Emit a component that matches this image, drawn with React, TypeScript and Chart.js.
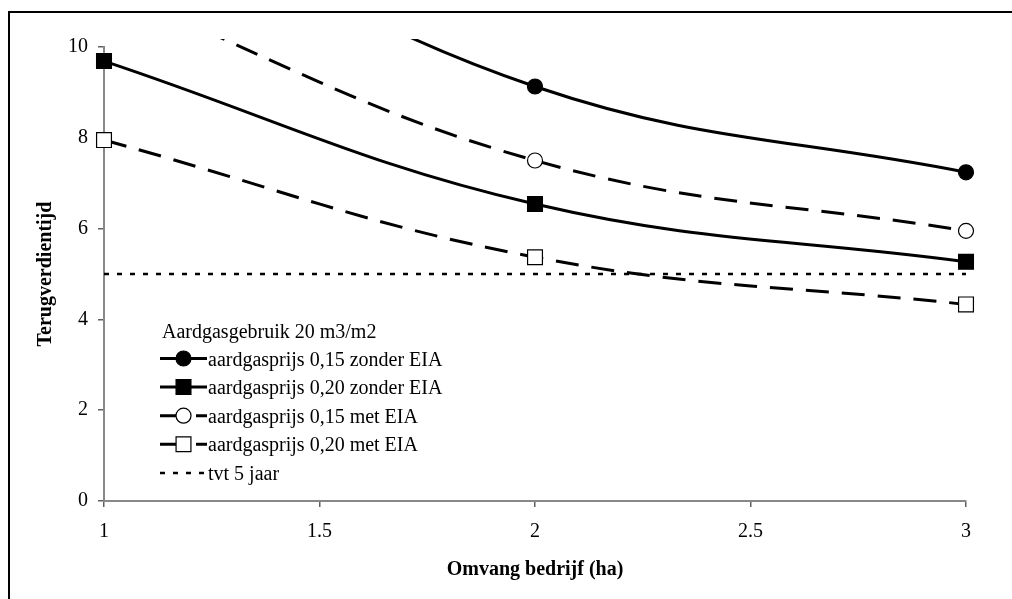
import React, { useEffect, useRef } from 'react';
import { Chart, registerables } from 'chart.js';

Chart.register(...registerables);

// ---- data ----
const sizes = [1, 2, 3];
const prijs015Zonder = [13.7, 9.13, 7.24];
const prijs020Zonder = [9.69, 6.54, 5.27];
const prijs015Met = [11.3, 7.5, 5.95];
const prijs020Met = [7.95, 5.37, 4.33];
const tvtSizes = [1, 3];
const tvtValues = [5, 5];
const xTicks = [1, 1.5, 2, 2.5, 3];
const yTicks = [0, 2, 4, 6, 8, 10];
const legendTitle = 'Aardgasgebruik 20 m3/m2';
const seriesLabels = [
  'aardgasprijs 0,15 zonder EIA',
  'aardgasprijs 0,20 zonder EIA',
  'aardgasprijs 0,15 met EIA',
  'aardgasprijs 0,20 met EIA',
  'tvt 5 jaar',
];
const xTitle = 'Omvang bedrijf (ha)';
const yTitle = 'Terugverdientijd';

const FONT = '"Liberation Serif", "Times New Roman", serif';
const DASH = [23, 13];
const DOT = [5, 8];
const CLIP = { left: 20, right: 20, top: 8, bottom: 20 };

const toPts = (xs: number[], ys: number[]) => xs.map((x, i) => ({ x, y: ys[i] }));

function drawMarker(ctx: CanvasRenderingContext2D, style: string, r: number, fill: string, x: number, y: number) {
  ctx.save();
  ctx.setLineDash([]);
  ctx.lineWidth = 1.2;
  ctx.strokeStyle = '#000';
  ctx.fillStyle = fill;
  ctx.beginPath();
  if (style === 'circle') {
    ctx.arc(x, y, r, 0, Math.PI * 2);
  } else {
    const s = Math.SQRT1_2 * r;
    ctx.rect(x - s, y - s, 2 * s, 2 * s);
  }
  ctx.fill();
  ctx.stroke();
  ctx.restore();
}

const legendPlugin = {
  id: 'customLegend',
  afterDraw(chart: any) {
    const ctx: CanvasRenderingContext2D = chart.ctx;
    ctx.save();
    ctx.font = `20px ${FONT}`;
    ctx.fillStyle = '#000';
    ctx.textBaseline = 'alphabetic';
    ctx.textAlign = 'left';
    ctx.fillText(legendTitle, 162, 338);
    chart.data.datasets.forEach((ds: any, i: number) => {
      const base = 365.5 + i * 28.6;
      const cy = base - 7;
      ctx.save();
      ctx.strokeStyle = '#000';
      ctx.lineWidth = ds.borderWidth;
      ctx.setLineDash(ds.borderDash || []);
      ctx.beginPath();
      ctx.moveTo(160, cy);
      ctx.lineTo(207, cy);
      ctx.stroke();
      ctx.restore();
      if (ds.pointRadius > 0) {
        drawMarker(ctx, ds.pointStyle, ds.pointRadius, ds.pointBackgroundColor, 183.5, cy);
      }
      ctx.fillStyle = '#000';
      ctx.fillText(ds.label, 208, base);
    });
    ctx.restore();
  },
};

function makeSeries(label: string, ys: number[], style: string, filled: boolean, dashed: boolean) {
  return {
    label,
    data: toPts(sizes, ys),
    borderColor: '#000',
    backgroundColor: '#000',
    borderWidth: 3,
    borderDash: dashed ? DASH : [],
    pointStyle: style,
    pointRadius: style === 'circle' ? 7.5 : 10.5,
    pointHoverRadius: style === 'circle' ? 7.5 : 10.5,
    pointBorderWidth: 1.2,
    pointBorderColor: '#000',
    pointBackgroundColor: filled ? '#000' : '#fff',
    tension: 0.4,
    fill: false,
    clip: CLIP,
  };
}

export default function App() {
  const ref = useRef<HTMLCanvasElement | null>(null);

  useEffect(() => {
    if (!ref.current) return;
    const chart = new Chart(ref.current, {
      type: 'line',
      data: {
        datasets: [
          makeSeries(seriesLabels[0], prijs015Zonder, 'circle', true, false),
          makeSeries(seriesLabels[1], prijs020Zonder, 'rect', true, false),
          makeSeries(seriesLabels[2], prijs015Met, 'circle', false, true),
          makeSeries(seriesLabels[3], prijs020Met, 'rect', false, true),
          {
            label: seriesLabels[4],
            data: toPts(tvtSizes, tvtValues),
            borderColor: '#000',
            borderWidth: 2.5,
            borderDash: DOT,
            pointRadius: 0,
            pointHoverRadius: 0,
            tension: 0,
            fill: false,
            clip: CLIP,
          } as any,
        ] as any,
      },
      options: {
        responsive: false,
        animation: false,
        events: [],
        layout: { padding: { left: 0, top: 47, right: 46, bottom: 0 } },
        plugins: {
          legend: { display: false },
          tooltip: { enabled: false },
          title: { display: false },
        },
        scales: {
          x: {
            type: 'linear',
            min: 1,
            max: 3,
            afterBuildTicks: (axis: any) => {
              axis.ticks = xTicks.map((v) => ({ value: v }));
            },
            afterFit: (s: any) => {
              s.height = 98;
            },
            ticks: {
              font: { family: FONT, size: 20 },
              color: '#000',
              padding: 13,
              maxRotation: 0,
              autoSkip: false,
              callback: (v: any) => String(v),
            },
            grid: {
              drawOnChartArea: false,
              drawTicks: true,
              tickLength: 6,
              color: '#606060',
              lineWidth: 1.5,
            },
            border: { display: true, color: '#888', width: 2 },
            title: {
              display: true,
              text: xTitle,
              color: '#000',
              font: { family: FONT, size: 20, weight: 'bold' },
              padding: { top: 0, bottom: 17 },
            },
          },
          y: {
            type: 'linear',
            min: 0,
            max: 10,
            afterBuildTicks: (axis: any) => {
              axis.ticks = yTicks.map((v) => ({ value: v }));
            },
            afterFit: (s: any) => {
              s.width = 104;
            },
            ticks: {
              font: { family: FONT, size: 20 },
              color: '#000',
              padding: 10,
              autoSkip: false,
              callback: (v: any) => String(v),
            },
            grid: {
              drawOnChartArea: false,
              drawTicks: true,
              tickLength: 6,
              color: '#606060',
              lineWidth: 1.5,
            },
            border: { display: true, color: '#888', width: 2 },
            title: {
              display: true,
              text: yTitle,
              color: '#000',
              font: { family: FONT, size: 20, weight: 'bold' },
              padding: { top: 34, bottom: 0 },
            },
          },
        },
      } as any,
      plugins: [legendPlugin],
    });
    return () => chart.destroy();
  }, []);

  return (
    <div
      style={{
        position: 'fixed',
        left: 0,
        top: 0,
        width: 1012,
        height: 599,
        overflow: 'hidden',
        background: '#fff',
      }}
    >
      <div
        style={{
          position: 'absolute',
          left: 8,
          top: 11,
          width: 1100,
          height: 700,
          border: '2px solid #000',
          boxSizing: 'border-box',
        }}
      />
      <canvas
        ref={ref}
        width={1012}
        height={599}
        style={{ position: 'absolute', left: 0, top: 0, width: 1012, height: 599 }}
      />
    </div>
  );
}
